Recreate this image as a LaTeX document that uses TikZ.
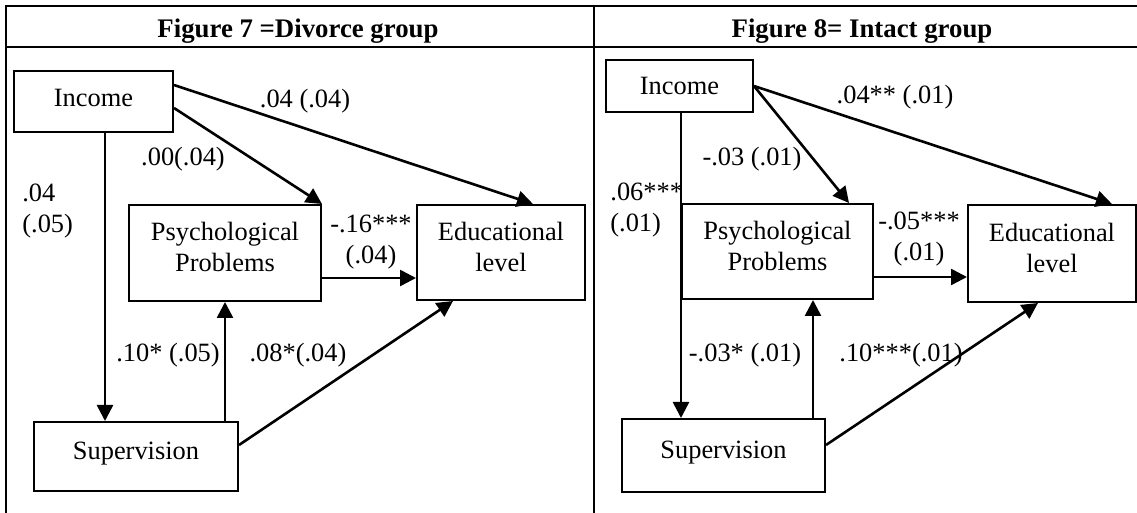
\documentclass[tikz,border=0pt]{standalone}
\usepackage{fontspec}
\setmainfont{Liberation Serif}
\usetikzlibrary{arrows.meta, calc}

\begin{document}
\begin{tikzpicture}[x=0.5pt, y=-0.5pt,
    font=\fontsize{13.2}{15.5}\selectfont,
    var/.style={draw, line width=1pt, align=center, inner sep=0pt, text depth=6pt},
    link/.style={-{Triangle[length=8pt, width=8pt]}, line width=1.3pt},
    coef/.style={inner sep=0pt, align=center},
    frame/.style={line width=1.1pt},
    caption/.style={font=\fontsize{13.4}{15.5}\selectfont\bfseries, anchor=base}]
    \useasboundingbox (0,0) rectangle (1137,513);

    % Tableau
    \draw[frame] (6,520) -- (6,6) -- (1150,6);
    \draw[frame] (6,47) -- (1150,47);
    \draw[frame] (594,6) -- (594,520);
    \node[caption] (titleL) at (298,38) {Figure 7 =Divorce group};
    \node[caption] (titleR) at (862,38) {Figure 8= Intact group};

    % Divorce group
    \node[var, text depth=3.5pt, minimum width=79.5pt, minimum height=30.5pt] (incL) at (93.5,101.5) {Income};
    \node[var, minimum width=96pt, minimum height=48pt] (psyL) at (225,253) {Psychological\\Problems};
    \node[var, minimum width=84pt, minimum height=47.5pt] (eduL) at (501,252.5) {Educational\\level};
    \node[var, minimum width=102pt, minimum height=34.5pt] (supL) at (136,456.5) {Supervision};

    \draw[link] (incL.east |- 0,85) -- (eduL.north -| 533,0);
    \draw[link] (incL.east |- 0,108) -- (psyL.north east);
    \draw[link] (incL.south -| 105,0) -- (supL.north -| 105,0);
    \draw[link] (psyL.south |- supL.north) -- (psyL.south);
    \draw[link] (psyL.east |- 0,278) -- (eduL.west |- 0,278);
    \draw[link] (supL.east |- 0,445) -- (eduL.south -| 453,0);

    \node[coef] (bIncEduL) at (305,101) {.04 (.04)};
    \node[coef] (bIncPsyL) at (183,159) {.00(.04)};
    \node[coef, align=left, anchor=west] (bIncSupL) at (22,211) {.04\\(.05)};
    \node[coef] (bPsyEduL) at (371,242) {-.16***\\(.04)};
    \node[coef] (bSupPsyL) at (168,355) {.10* (.05)};
    \node[coef] (bSupEduL) at (298,355) {.08*(.04)};

    % Intact group
    \node[var, text depth=0pt, minimum width=73.5pt, minimum height=26pt] (incR) at (679.5,86) {Income};
    \node[var, minimum width=95.5pt, minimum height=47.5pt] (psyR) at (777.5,251.5) {Psychological\\Problems};
    \node[var, minimum width=84pt, minimum height=48.5pt] (eduR) at (1052,253.5) {Educational\\level};
    \node[var, minimum width=101.5pt, minimum height=36.5pt] (supR) at (723.5,455.5) {Supervision};

    \draw[link] (incR.east) -- (eduR.north -| 1112,0);
    \draw[link] (incR.east) -- (psyR.north -| 849,0);
    \draw[link] (incR.south -| 681,0) -- (supR.north -| 681,0);
    \draw[link] (supR.north -| 813,0) -- (psyR.south -| 813,0);
    \draw[link] (psyR.east |- 0,277) -- (eduR.west |- 0,277);
    \draw[link] (supR.east |- 0,445) -- (eduR.south -| 1038,0);

    \node[coef] (bIncEduR) at (895,97) {.04** (.01)};
    \node[coef] (bIncPsyR) at (752,159) {-.03 (.01)};
    \node[coef, align=left, anchor=west] (bIncSupR) at (610,210) {.06***\\(.01)};
    \node[coef] (bPsyEduR) at (919,239) {-.05***\\(.01)};
    \node[coef] (bSupPsyR) at (745,355) {-.03* (.01)};
    \node[coef] (bSupEduR) at (901,355) {.10***(.01)};
\end{tikzpicture}
\end{document}
